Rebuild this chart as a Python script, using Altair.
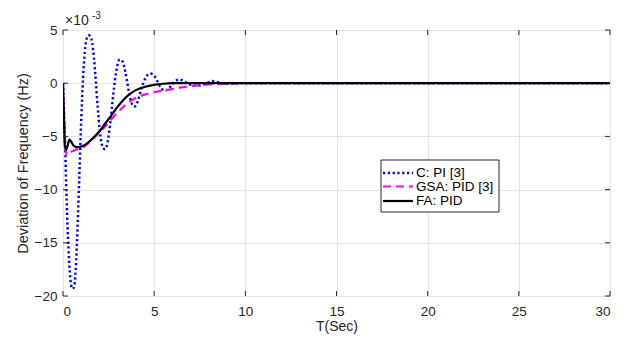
import altair as alt
import pandas as pd

# ---- data (values in units of 1e-3 Hz) ----
t_c = [0, 0.1, 0.2, 0.3, 0.4, 0.5, 0.6, 0.7, 0.8, 0.9, 1.0, 1.1, 1.2, 1.3, 1.4, 1.5, 1.6, 1.7, 1.8, 1.9,
       2.0, 2.1, 2.2, 2.3, 2.4, 2.5, 2.6, 2.7, 2.8, 2.9, 3.0, 3.1, 3.2, 3.3, 3.4, 3.5, 3.6, 3.7, 3.8, 3.9,
       4.0, 4.1, 4.2, 4.4, 4.6, 4.8, 5.0, 5.2, 5.4, 5.6, 5.8, 6.0, 6.2, 6.4, 6.6, 6.8, 7.0, 7.4, 7.8, 8.2,
       8.6, 9.0, 10, 30]
v_c = [0, -5, -11, -15.5, -18.3, -19.3, -19.2, -17.5, -13.5, -8.5, -3.5, 0.5, 3.0, 4.2, 4.5, 4.4, 3.8, 2.3, 0.2, -2.2,
       -4.2, -5.5, -6.1, -6.2, -5.9, -5.0, -3.6, -2.0, -0.4, 0.9, 1.8, 2.2, 2.2, 1.9, 1.2, 0.3, -0.7, -1.5, -2.0, -2.2,
       -2.1, -1.7, -1.1, 0.0, 0.7, 0.9, 0.7, 0.1, -0.5, -0.7, -0.5, -0.1, 0.25, 0.35, 0.2, 0.0, -0.15, -0.25, -0.05, 0.2,
       0.05, -0.05, 0, 0]

t_g = [0, 0.1, 0.2, 0.3, 0.5, 0.8, 1.2, 1.6, 2.0, 2.4, 2.8, 3.2, 3.6, 4.0, 4.5, 5.0, 5.5, 6.0, 6.5, 7.0, 8.0, 9.0, 10, 30]
v_g = [0, -5, -6.8, -6.6, -6.4, -6.2, -5.9, -5.3, -4.6, -3.9, -3.1, -2.4, -1.8, -1.4, -1.05, -0.85, -0.7, -0.55, -0.4,
       -0.28, -0.12, -0.05, 0, 0]

t_f = [0, 0.05, 0.1, 0.17, 0.25, 0.35, 0.45, 0.6, 0.8, 1.0, 1.2, 1.5, 1.8, 2.1, 2.4, 2.7, 3.0, 3.3, 3.6, 4.0, 4.5,
       5.0, 5.5, 6.0, 30]
v_f = [0, -3, -5.8, -6.3, -5.9, -5.3, -5.5, -5.9, -6.0, -5.95, -5.8, -5.4, -4.9, -4.3, -3.6, -2.9, -2.2, -1.6, -1.1,
       -0.65, -0.33, -0.15, -0.05, 0, 0]

legend_labels = ["C: PI [3]", "GSA: PID [3]", "FA: PID"]
x_ticks = [0, 5, 10, 15, 20, 25, 30]
y_ticks = [-20, -15, -10, -5, 0, 5]

W, H = 547, 266
FONT = "Liberation Sans"
TXT = "#262626"

xs = alt.Scale(domain=[0, 30], nice=False, zero=False)
ys = alt.Scale(domain=[-20, 5], nice=False, zero=False)

x_axis = alt.Axis(values=x_ticks, ticks=False, domain=False, grid=True, gridColor="#e3e3e3",
                  labelFont=FONT, labelFontSize=13.5, labelColor=TXT, labelPadding=8,
                  title="T(Sec)", titleFont=FONT, titleFontSize=14, titleFontWeight="normal",
                  titleColor=TXT, titlePadding=2)
y_axis = alt.Axis(values=y_ticks, ticks=False, domain=False, grid=True, gridColor="#e3e3e3",
                  labelFont=FONT, labelFontSize=13.5, labelColor=TXT, labelPadding=6,
                  title="Deviation of Frequency (Hz)", titleFont=FONT, titleFontSize=14.5,
                  titleFontWeight="normal", titleColor=TXT, titlePadding=4)

df_c = pd.DataFrame({"t": t_c, "v": v_c})
df_g = pd.DataFrame({"t": t_g, "v": v_g})
df_f = pd.DataFrame({"t": t_f, "v": v_f})

base_axes = alt.Chart(pd.DataFrame({"t": [0, 30], "v": [-20, 5]})).mark_point(opacity=0).encode(
    x=alt.X("t:Q", scale=xs, axis=x_axis),
    y=alt.Y("v:Q", scale=ys, axis=y_axis),
)

line_c = alt.Chart(df_c).mark_line(color="#0000ff", strokeWidth=2.5, strokeDash=[2.2, 2.6],
                                   interpolate="monotone", clip=True).encode(
    x=alt.X("t:Q", scale=xs), y=alt.Y("v:Q", scale=ys))
line_g = alt.Chart(df_g).mark_line(color="#ff00ff", strokeWidth=2.2, strokeDash=[8, 5],
                                   interpolate="monotone", clip=True).encode(
    x=alt.X("t:Q", scale=xs), y=alt.Y("v:Q", scale=ys))
line_f = alt.Chart(df_f).mark_line(color="#000000", strokeWidth=2.2,
                                   interpolate="monotone", clip=True).encode(
    x=alt.X("t:Q", scale=xs), y=alt.Y("v:Q", scale=ys))

# inward ticks on all four sides
xt = pd.DataFrame({"t": x_ticks})
yt = pd.DataFrame({"v": y_ticks})
tick_b = alt.Chart(xt).mark_rule(color=TXT, strokeWidth=1).encode(
    x=alt.X("t:Q", scale=xs), y=alt.value(H), y2=alt.value(H - 5))
tick_t = alt.Chart(xt).mark_rule(color=TXT, strokeWidth=1).encode(
    x=alt.X("t:Q", scale=xs), y=alt.value(0), y2=alt.value(5))
tick_l = alt.Chart(yt).mark_rule(color=TXT, strokeWidth=1).encode(
    y=alt.Y("v:Q", scale=ys), x=alt.value(0), x2=alt.value(5))
tick_r = alt.Chart(yt).mark_rule(color=TXT, strokeWidth=1).encode(
    y=alt.Y("v:Q", scale=ys), x=alt.value(W - 5), x2=alt.value(W))

# exponent label
one = pd.DataFrame({"a": [0]})
exp_main = alt.Chart(one).mark_text(text="×10", font=FONT, fontSize=14, color=TXT, align="left",
                                    baseline="alphabetic").encode(x=alt.value(2), y=alt.value(-5))
exp_sup = alt.Chart(one).mark_text(text="-3", font=FONT, fontSize=10, color=TXT, align="left",
                                   baseline="alphabetic").encode(x=alt.value(29), y=alt.value(-11))

# legend
leg_box = alt.Chart(one).mark_rect(fill="white", stroke=TXT, strokeWidth=1).encode(
    x=alt.value(318), x2=alt.value(436), y=alt.value(130), y2=alt.value(182))
rows = [143, 156.5, 171]
leg_items = []
styles = [dict(color="#0000ff", strokeWidth=2.5, strokeDash=[2.2, 2.6]),
          dict(color="#ff00ff", strokeWidth=2.2, strokeDash=[8, 5]),
          dict(color="#000000", strokeWidth=2.2)]
for lab, yy, st in zip(legend_labels, rows, styles):
    leg_items.append(alt.Chart(one).mark_rule(**st).encode(
        x=alt.value(320), x2=alt.value(350), y=alt.value(yy)))
    leg_items.append(alt.Chart(one).mark_text(text=lab, font=FONT, fontSize=13.5, color="#000000",
                                              align="left", baseline="middle").encode(
        x=alt.value(353), y=alt.value(yy)))

chart = alt.layer(base_axes, line_c, line_g, line_f, tick_b, tick_t, tick_l, tick_r,
                  exp_main, exp_sup, leg_box, *leg_items).properties(
    width=W, height=H,
    autosize=alt.AutoSizeParams(type="none"),
    padding={"left": 55, "top": 22, "right": 12, "bottom": 42},
).configure_view(stroke=TXT, strokeWidth=1.2).configure(background="white")

chart.save("out.html", embed_options={"renderer": "svg", "actions": False})
